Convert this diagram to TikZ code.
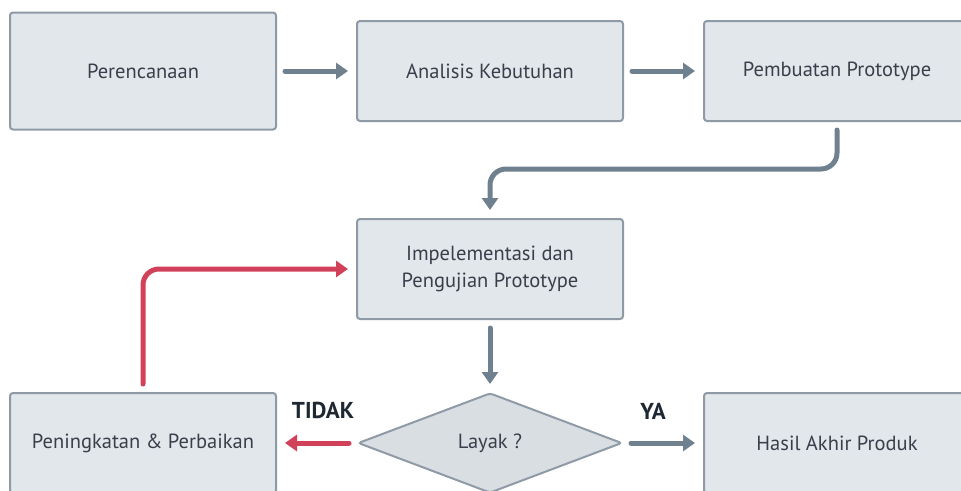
\documentclass[tikz,border=0pt]{standalone}
\usepackage{fontspec}
\setmainfont{PT Sans}
\usetikzlibrary{positioning,shapes.geometric,arrows.meta}
\definecolor{box_fill}{HTML}{E2E7EC}
\definecolor{box_line}{HTML}{8E9BA7}
\definecolor{flow_gray}{HTML}{6F808E}
\definecolor{flow_red}{HTML}{D1415A}
\definecolor{txt_gray}{HTML}{37404A}
\definecolor{lbl_dark}{HTML}{1E2833}

\begin{document}
\begin{tikzpicture}[x=1pt, y=-1pt,
  box/.style={rectangle, rounded corners=3pt, draw=box_line, line width=2pt, fill=box_fill, minimum width=266pt, minimum height=100pt, text=txt_gray, font=\fontsize{20.5}{27}\selectfont, align=center},
  choice/.style={diamond, rounded corners=3pt, draw=box_line, line width=2pt, fill=box_fill!96!black, minimum width=264pt, minimum height=100pt, text=txt_gray, font=\fontsize{20.5}{27}\selectfont, inner sep=0pt},
  flow/.style={-{Triangle[length=12pt, width=16pt]}, line width=5pt, draw=flow_gray, line cap=round, shorten <=8pt, shorten >=8pt},
  back/.style={flow, draw=flow_red},
  decide/.style={font=\fontsize{23}{26}\selectfont\bfseries, text=lbl_dark}]
\useasboundingbox (0,0) rectangle (961,490);
\node (Plan) [box, minimum height=117pt] at (143,71) {Perencanaan};
\node (Needs) [box] at (490,71) {Analisis Kebutuhan};
\node (Proto) [box] at (837,71) {Pembuatan Prototype};
\node (Test) [box] at (490,269) {Impelementasi dan\\Pengujian Prototype};
\node (Check) [choice] at (490,443) {Layak ?};
\node (Fix) [box] at (143,443) {Peningkatan \& Perbaikan};
\node (Done) [box] at (837,443) {Hasil Akhir Produk};
\draw [flow] (Plan) -- (Needs);
\draw [flow] (Needs) -- (Proto);
\draw [flow, rounded corners=16pt] (Proto.south) -- ++(0,47) -| (Test.north);
\draw [flow] (Test) -- (Check);
\draw [back] (Check.west) -- node[decide, above=18pt, xshift=6pt] {TIDAK} (Fix.east);
\draw [flow] (Check.east) -- node[decide, above=18pt, xshift=-10pt] {YA} (Done.west);
\draw [back, rounded corners=16pt] (Fix.north) |- (Test.west);
\end{tikzpicture}
\end{document}
